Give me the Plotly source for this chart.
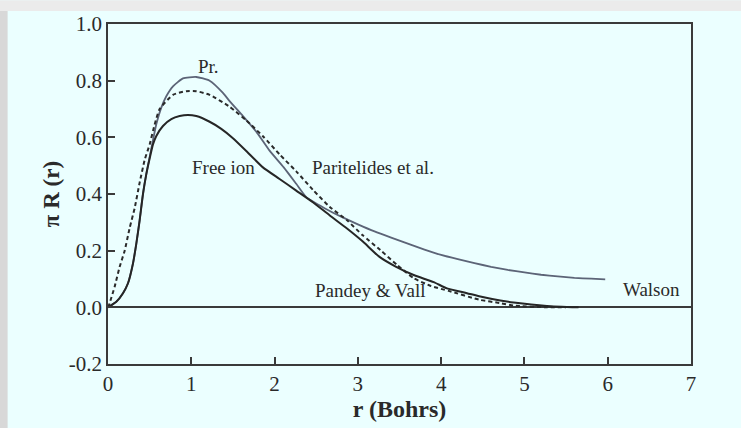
import plotly.graph_objects as go

# ---- data ----
gray_r = [0, 0.10, 0.18, 0.24, 0.30, 0.34, 0.38, 0.42, 0.46, 0.50, 0.54, 0.58, 0.64, 0.70, 0.78,
          0.90, 1.06, 1.22, 1.38, 1.46, 1.62, 1.78, 1.94, 2.11, 2.26, 2.38, 2.60, 2.80, 3.00, 3.20,
          3.40, 3.60, 3.80, 4.00, 4.20, 4.40, 4.60, 4.80, 5.00, 5.20, 5.40, 5.60, 5.80, 5.97]
gray_v = [0, 0.02, 0.05, 0.085, 0.155, 0.225, 0.307, 0.40, 0.47, 0.53, 0.59, 0.646, 0.705, 0.745, 0.78,
          0.808, 0.813, 0.80, 0.757, 0.728, 0.675, 0.62, 0.553, 0.494, 0.436, 0.389, 0.350, 0.320, 0.293, 0.268,
          0.246, 0.225, 0.204, 0.185, 0.170, 0.156, 0.143, 0.132, 0.123, 0.115, 0.109, 0.104, 0.101, 0.099]

free_r = [0, 0.10, 0.18, 0.24, 0.30, 0.34, 0.38, 0.42, 0.46, 0.50, 0.54, 0.58, 0.66, 0.76, 0.86,
          0.96, 1.06, 1.22, 1.36, 1.50, 1.66, 1.86, 2.06, 2.26, 2.46, 2.66, 2.87, 3.06, 3.26, 3.46, 3.67,
          3.91, 4.07, 4.31, 4.47, 4.71, 4.87, 5.27, 5.65]
free_v = [0, 0.02, 0.05, 0.085, 0.155, 0.225, 0.307, 0.40, 0.47, 0.525, 0.575, 0.605, 0.64, 0.664, 0.675,
          0.679, 0.675, 0.655, 0.630, 0.597, 0.552, 0.494, 0.453, 0.412, 0.371, 0.325, 0.278, 0.232, 0.178, 0.143, 0.114,
          0.089, 0.067, 0.05, 0.038, 0.024, 0.017, 0.005, 0.0]

dash_r = [0, 0.02, 0.08, 0.14, 0.20, 0.26, 0.32, 0.38, 0.44, 0.50, 0.56, 0.62, 0.78, 0.94, 1.06,
          1.22, 1.46, 1.66, 1.86, 2.06, 2.26, 2.46, 2.66, 2.87, 3.06, 3.27, 3.47, 3.67, 3.88, 4.09,
          4.47, 4.71, 4.87, 5.27, 5.50]
dash_v = [0, 0.015, 0.073, 0.143, 0.20, 0.28, 0.35, 0.44, 0.52, 0.575, 0.645, 0.70, 0.75, 0.763, 0.763,
          0.75, 0.708, 0.66, 0.604, 0.54, 0.48, 0.415, 0.355, 0.307, 0.254, 0.202, 0.150, 0.103, 0.075, 0.058,
          0.026, 0.015, 0.006, 0.0, 0.0]

labels = ["Pr.", "Free ion", "Paritelides et al.", "Pandey & Vall", "Walson"]
label_r = [1.21, 1.39, 3.18, 3.15, 6.52]
label_v = [0.851, 0.492, 0.492, 0.059, 0.064]

x_tickvals = [0, 1, 2, 3, 4, 5, 6, 7]
x_ticktext = ["0", "1", "2", "3", "4", "5", "6", "7"]
y_tickvals = [-0.2, 0.0, 0.2, 0.4, 0.6, 0.8, 1.0]
y_ticktext = ["-0.2", "0.0", "0.2", "0.4", "0.6", "0.8", "1.0"]

SERIF = "Liberation Serif, Times New Roman, serif"
BG = "#ebffff"
AX = "#3a3a3a"

fig = go.Figure()
fig.add_trace(go.Scatter(x=gray_r, y=gray_v, mode="lines", name="Walson",
                         line=dict(color="#5c6477", width=1.8, shape="spline", smoothing=0.5)))
fig.add_trace(go.Scatter(x=dash_r, y=dash_v, mode="lines", name="Paritelides et al.",
                         line=dict(color="#2a2a2a", width=2, dash="4px,3px", shape="spline", smoothing=0.5)))
fig.add_trace(go.Scatter(x=free_r, y=free_v, mode="lines", name="Free ion",
                         line=dict(color="#262626", width=2, shape="spline", smoothing=0.5)))

for t, xr, yv in zip(labels, label_r, label_v):
    fig.add_annotation(x=xr, y=yv, text=t, showarrow=False, xanchor="center", yanchor="middle",
                       font=dict(family=SERIF, size=19, color="#2a2a2a"))

# background strips from the scanned page
fig.add_shape(type="rect", xref="paper", yref="paper", x0=-0.19, x1=1.1, y0=1.038, y1=1.07,
              fillcolor="#ebebeb", line=dict(width=0), layer="below")
fig.add_shape(type="rect", xref="paper", yref="paper", x0=-0.19, x1=-0.1722, y0=-0.2, y1=1.038,
              fillcolor="#d8d8d8", line=dict(width=0), layer="below")

axis_common = dict(showgrid=False, showline=True, mirror=True, linecolor=AX, linewidth=1.5,
                   ticks="inside", ticklen=7, tickwidth=1.5, tickcolor=AX,
                   tickfont=dict(family=SERIF, size=21, color="#2a2a2a"))

fig.update_layout(
    width=741, height=428,
    margin=dict(l=108, r=50, t=22, b=64),
    paper_bgcolor=BG, plot_bgcolor=BG,
    showlegend=False,
    xaxis=dict(range=[0, 7], tickvals=x_tickvals, ticktext=x_ticktext, zeroline=False,
               title=dict(text="<b>r (Bohrs)</b>", font=dict(family=SERIF, size=24, color="#2a2a2a"),
                          standoff=2),
               **axis_common),
    yaxis=dict(range=[-0.2, 1.0], tickvals=y_tickvals, ticktext=y_ticktext,
               zeroline=True, zerolinecolor=AX, zerolinewidth=1.5,
               title=dict(text="<b>π R (r)</b>", font=dict(family=SERIF, size=23, color="#2a2a2a"),
                          standoff=3),
               **axis_common),
)

fig.write_html("out.html")
